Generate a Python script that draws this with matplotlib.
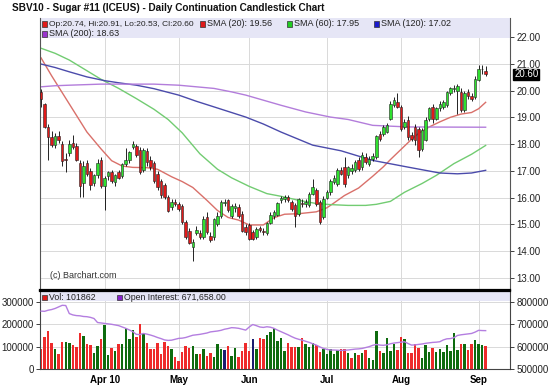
import numpy as np
import matplotlib
matplotlib.use("Agg")
import matplotlib.pyplot as plt
import matplotlib.ticker as mticker
from matplotlib.patches import Rectangle

plt.rcParams['font.family'] = ['Liberation Sans', 'DejaVu Sans']

# ── DATA: one entry per trading session, 8 Mar – 3 Sep 2010 ─────────────
opens = [19.95, 19.50, 18.64, 18.27, 17.96, 18.29, 17.99, 17.45, 17.68, 18.05,
         17.92, 17.29, 16.55, 17.30, 17.00, 16.55, 16.85, 17.40, 16.45, 16.80,
         16.95, 16.60, 16.95, 16.80, 17.25, 17.40, 17.89, 17.92, 17.77, 17.04,
         17.74, 17.42, 17.29, 16.89, 16.64, 16.46, 16.02, 15.65, 15.82, 15.77,
         15.67, 15.08, 14.77, 14.17, 14.67, 14.67, 14.52, 15.27, 14.58, 14.52,
         15.00, 15.33, 15.80, 15.90, 15.33, 15.60, 15.64, 15.40, 14.90, 14.96,
         14.71, 14.52, 14.85, 14.77, 14.67, 15.05, 15.30, 15.37, 15.90, 15.95,
         16.02, 15.83, 15.71, 15.40, 15.80, 15.75, 15.71, 16.15, 16.27, 15.83,
         15.27, 16.00, 16.20, 16.60, 16.52, 17.02, 17.14, 16.83, 17.00, 17.02,
         17.39, 17.14, 17.52, 17.27, 17.45, 17.52, 18.39, 18.39, 18.45, 18.95,
         19.45, 19.58, 19.39, 18.64, 18.89, 18.33, 18.64, 18.58, 17.83, 18.14,
         18.92, 19.39, 18.95, 19.33, 19.39, 19.45, 19.89, 20.05, 20.00, 19.95,
         19.27, 19.95, 19.79, 19.76, 20.41, 20.79, 20.74]
highs = [20.05, 19.55, 18.75, 18.50, 18.40, 18.50, 18.10, 17.65, 18.15, 18.35,
         18.05, 17.40, 17.35, 17.40, 17.10, 16.90, 17.45, 17.50, 16.80, 17.00,
         17.05, 16.90, 17.05, 17.30, 17.85, 17.75, 18.12, 18.00, 17.90, 17.85,
         17.85, 17.55, 17.35, 17.00, 16.70, 16.55, 16.10, 15.95, 15.95, 15.85,
         15.75, 15.15, 14.85, 14.45, 14.95, 14.80, 15.30, 15.45, 14.70, 15.25,
         15.45, 15.90, 15.95, 15.95, 15.75, 15.80, 15.75, 15.50, 15.00, 15.05,
         14.80, 14.90, 14.95, 14.85, 15.10, 15.45, 15.55, 15.85, 16.05, 16.10,
         16.10, 15.90, 15.80, 16.00, 15.95, 15.95, 16.20, 16.70, 16.35, 15.90,
         16.05, 16.30, 16.70, 16.85, 17.10, 17.15, 17.50, 17.20, 17.25, 17.40,
         17.50, 17.70, 17.65, 17.55, 17.65, 18.35, 18.50, 18.70, 18.80, 19.60,
         19.75, 19.90, 19.45, 18.95, 19.05, 18.45, 18.75, 18.65, 18.60, 19.00,
         19.40, 19.50, 19.40, 19.60, 19.65, 20.00, 20.15, 20.20, 20.25, 20.10,
         20.00, 20.05, 19.90, 20.55, 20.95, 20.95, 20.91]
lows = [19.40, 18.60, 17.42, 17.90, 17.85, 18.05, 17.20, 16.95, 17.55, 17.80,
        17.35, 16.02, 16.02, 16.80, 16.30, 16.45, 16.75, 16.35, 15.55, 16.65,
        16.55, 16.45, 16.70, 16.75, 17.20, 17.30, 17.80, 17.50, 16.90, 16.95,
        17.20, 17.05, 16.55, 16.30, 16.00, 15.95, 15.45, 15.55, 15.70, 15.50,
        15.00, 14.45, 14.25, 13.65, 14.60, 14.45, 14.45, 14.65, 14.35, 14.40,
        14.95, 15.25, 15.70, 15.45, 15.25, 15.45, 15.25, 14.70, 14.60, 14.40,
        14.40, 14.45, 14.70, 14.60, 14.60, 15.00, 15.20, 15.30, 15.80, 15.85,
        15.85, 15.50, 14.90, 15.30, 15.65, 15.65, 15.65, 16.10, 15.70, 15.00,
        15.20, 15.95, 16.10, 16.50, 16.45, 16.85, 16.40, 16.75, 16.90, 16.95,
        17.00, 17.05, 17.25, 17.20, 17.35, 17.45, 18.10, 18.30, 18.40, 18.90,
        19.40, 19.35, 18.50, 18.55, 18.15, 18.10, 17.95, 17.52, 17.75, 18.10,
        18.85, 18.80, 18.90, 19.25, 19.30, 19.40, 19.85, 19.95, 19.14, 19.20,
        19.20, 19.70, 19.60, 19.70, 20.35, 20.60, 20.53]
closes = [19.67, 18.64, 18.27, 17.96, 18.29, 18.14, 17.37, 17.40, 17.99, 17.90,
          17.42, 16.42, 17.20, 16.90, 16.48, 16.85, 17.30, 16.45, 16.75, 16.95,
          16.62, 16.85, 16.75, 17.25, 17.40, 17.70, 18.02, 17.58, 16.96, 17.79,
          17.33, 17.14, 16.64, 16.39, 16.08, 16.04, 15.50, 15.83, 15.78, 15.58,
          15.08, 14.52, 14.30, 14.33, 14.80, 14.52, 15.20, 14.71, 14.42, 15.20,
          15.33, 15.83, 15.83, 15.52, 15.67, 15.70, 15.33, 14.77, 14.70, 14.46,
          14.46, 14.83, 14.78, 14.71, 15.05, 15.37, 15.45, 15.80, 16.00, 16.02,
          15.90, 15.58, 15.33, 15.96, 15.75, 15.83, 16.15, 16.40, 15.77, 15.08,
          15.96, 16.20, 16.64, 16.75, 17.02, 16.90, 16.52, 17.14, 17.10, 17.33,
          17.08, 17.58, 17.33, 17.45, 17.55, 18.29, 18.20, 18.62, 18.70, 19.50,
          19.64, 19.39, 18.58, 18.83, 18.27, 18.20, 18.14, 17.77, 18.52, 18.89,
          19.33, 18.95, 19.33, 19.50, 19.58, 19.95, 20.08, 20.10, 20.16, 19.27,
          19.91, 19.79, 19.70, 20.45, 20.79, 20.82, 20.60]
volume = [89, 144, 172, 118, 88, 65, 120, 120, 115, 107,
          98, 162, 148, 110, 107, 72, 103, 135, 198, 63,
          92, 82, 112, 112, 185, 133, 175, 145, 200, 158,
          118, 88, 90, 118, 68, 122, 105, 88, 55, 38,
          78, 105, 95, 105, 65, 65, 88, 58, 73, 55,
          113, 90, 87, 103, 60, 95, 55, 80, 118, 80,
          135, 88, 140, 135, 152, 165, 182, 125, 140, 80,
          118, 98, 98, 98, 137, 110, 100, 115, 107, 77,
          89, 65, 89, 65, 83, 88, 89, 70, 50, 70,
          62, 70, 83, 50, 40, 171, 80, 73, 137, 80,
          110, 85, 144, 132, 73, 70, 110, 95, 50, 107,
          77, 92, 77, 88, 77, 107, 80, 160, 85, 110,
          110, 85, 110, 130, 112, 107, 101.862]            # thousands
open_int = [759, 758, 763, 766, 771, 778, 785, 784, 748, 742,
            739, 738, 735, 734, 731, 726, 708, 706, 704, 702,
            700, 697, 694, 688, 682, 675, 667, 655, 654, 659,
            656, 652, 647, 641, 636, 630, 628, 629, 633, 637,
            638, 641, 646, 651, 653, 655, 658, 661, 666, 668,
            670, 673, 678, 681, 685, 684, 682, 678, 674, 688,
            699, 694, 688, 686, 689, 687, 682, 674, 667, 660,
            653, 645, 638, 633, 629, 624, 619, 613, 607, 599,
            592, 588, 585, 585, 584, 583, 584, 585, 587, 589,
            590, 592, 596, 600, 606, 610, 607, 606, 608, 613,
            616, 618, 620, 622, 614, 607, 608, 610, 612, 615,
            617, 619, 620, 622, 630, 635, 636, 640, 650, 653,
            655, 657, 659, 665, 673, 672, 671.658]         # thousands

# moving averages at a few sessions
sma20_at = [0, 3, 8, 13, 17, 20, 23, 26, 30, 33, 37, 40, 43, 47, 50, 53, 56, 59, 63,
            66, 69, 73, 78, 81, 83, 86, 90, 94, 97, 99, 102, 105, 107, 110, 113, 116,
            119, 122, 124, 126]
sma20 = [21.22, 20.55, 19.50, 18.45, 17.82, 17.38, 17.18, 17.13, 17.12, 17.06, 16.78,
         16.60, 16.38, 15.90, 15.52, 15.26, 15.16, 14.98, 14.98, 15.25, 15.38, 15.40,
         15.47, 15.62, 15.80, 16.08, 16.36, 16.80, 17.15, 17.42, 17.80, 18.18, 18.40,
         18.64, 18.83, 19.00, 19.12, 19.18, 19.32, 19.56]
sma60_at = [0, 4, 8, 13, 17, 22, 27, 32, 36, 40, 45, 50, 54, 59, 64, 68, 73, 78, 82,
            87, 92, 95, 99, 103, 108, 112, 117, 122, 126]
sma60 = [21.58, 21.39, 21.14, 20.74, 20.42, 20.08, 19.70, 19.30, 18.92, 18.42, 17.64,
         17.06, 16.74, 16.42, 16.15, 16.05, 15.90, 15.78, 15.74, 15.71, 15.71, 15.75,
         15.86, 16.20, 16.53, 16.83, 17.27, 17.62, 17.95]
sma120_at = [0, 4, 8, 13, 18, 22, 27, 32, 39, 44, 49, 58, 63, 68, 77, 85, 94, 104,
             113, 118, 122, 126]
sma120 = [20.99, 20.86, 20.70, 20.51, 20.37, 20.29, 20.20, 20.07, 19.83, 19.60, 19.39,
          19.01, 18.75, 18.45, 17.96, 17.75, 17.39, 17.14, 16.92, 16.89, 16.92, 17.02]
sma200_at = [0, 4, 8, 17, 32, 39, 49, 54, 58, 68, 75, 82, 87, 94, 99, 104, 126]
sma200 = [20.14, 20.18, 20.20, 20.24, 20.24, 20.20, 20.08, 19.95, 19.83, 19.45, 19.20,
          19.01, 18.92, 18.70, 18.67, 18.64, 18.63]

month_start = [18, 39, 59, 81, 102, 124]
month_label = ["Apr 10", "May", "Jun", "Jul", "Aug", "Sep"]

# ── STYLE ───────────────────────────────────────────────────────────────
UP, DOWN = '#2fe02f', '#e01a1a'
VUP, VDOWN, VUNCH = '#0e6b0e', '#ee2b2b', '#1c1c70'
C20, C60, C120, C200 = '#d9706a', '#72cc72', '#4b4bab', '#b37ddb'
OI_COL = '#b47ee0'
BAND = '#e6e6f6'
GRID = '#d9d9d9'
W, H = 550, 389

fig = plt.figure(figsize=(W / 100, H / 100), dpi=100, facecolor='white')
ax = fig.add_axes([40 / W, 1 - 290 / H, 470 / W, 272 / H])
axv = fig.add_axes([40 / W, 1 - 369 / H, 470 / W, 78 / H], sharex=ax)

idx = np.arange(len(closes))

# candles
for i, (o, h, l, c) in enumerate(zip(opens, highs, lows, closes)):
    ax.vlines(i, l, h, color='black', lw=0.6, zorder=3)
    ax.add_patch(Rectangle((i - 0.36, min(o, c)), 0.72, max(abs(c - o), 0.02),
                           facecolor=UP if c >= o else DOWN, edgecolor='#222222',
                           lw=0.4, zorder=4))

ax.plot(sma20_at, sma20, color=C20, lw=1.0, zorder=2)
ax.plot(sma60_at, sma60, color=C60, lw=1.0, zorder=2)
ax.plot(sma120_at, sma120, color=C120, lw=1.0, zorder=2)
ax.plot(sma200_at, sma200, color=C200, lw=1.0, zorder=2)

ax.set_xlim(-0.3, 132.9)
ax.set_ylim(12.55, 22.71)
ax.set_axisbelow(True)
ax.grid(color=GRID, lw=0.7)
ax.set_xticks(month_start)
ax.tick_params(axis='x', length=0, labelbottom=False)
ax.yaxis.tick_right()
ax.set_yticks(np.arange(13, 23))
ax.yaxis.set_major_formatter(mticker.FormatStrFormatter('%.2f'))
ax.tick_params(axis='y', length=3, width=0.6, labelsize=7, pad=1.5, colors='#222222')
for s in ['left', 'right']:
    ax.spines[s].set_color('#555555')
ax.spines['top'].set_visible(False)
ax.spines['bottom'].set_linewidth(1.6)
ax.spines['bottom'].set_color('black')

ax.add_patch(Rectangle((0, 1 - 20 / 272), 1, 20 / 272, transform=ax.transAxes,
                       facecolor=BAND, edgecolor='none', zorder=1.5))
ax.text(10 / 470, 10 / 272, '(c) Barchart.com', transform=ax.transAxes,
        fontsize=6.5, color='#333333', va='bottom')
ax.annotate(f'{closes[-1]:.2f}', xy=(1, closes[-1]), xycoords=('axes fraction', 'data'),
            xytext=(3, 0), textcoords='offset points', fontsize=7, color='white',
            va='center', ha='left',
            bbox=dict(boxstyle='square,pad=0.1', fc='black', ec='black'))

# volume + open interest
prev = [opens[0]] + closes[:-1]
vcols = [VUP if c > p else VDOWN if c < p else VUNCH for c, p in zip(closes, prev)]
axv.bar(idx, np.array(volume) * 1000, width=0.7, color=vcols, edgecolor='none', zorder=2)
axv.set_ylim(0, 349000)
axv.set_yticks([0, 100000, 200000, 300000])
axv.yaxis.set_major_formatter(mticker.FuncFormatter(lambda v, _: f'{v:.0f}'))
axv.set_axisbelow(True)
axv.grid(color=GRID, lw=0.7)
axv.set_xticks(month_start)
axv.set_xticklabels(month_label, fontsize=7, fontweight='bold')
axv.tick_params(axis='x', length=0, pad=4)
axv.tick_params(axis='y', length=3, width=0.6, labelsize=7, pad=1.5, colors='#222222')
axv.spines['top'].set_linewidth(1.6)
axv.spines['top'].set_color('black')
for s in ['left', 'right', 'bottom']:
    axv.spines[s].set_color('#444444')

axo = axv.twinx()
axo.plot(idx, np.array(open_int) * 1000, color=OI_COL, lw=1.0, zorder=3)
axo.set_ylim(500000, 849000)
axo.set_yticks([500000, 600000, 700000, 800000])
axo.yaxis.set_major_formatter(mticker.FuncFormatter(lambda v, _: f'{v:.0f}'))
axo.tick_params(axis='y', length=3, width=0.6, labelsize=7, pad=1.5, colors='#222222')
for s in axo.spines.values():
    s.set_visible(False)
axv.add_patch(Rectangle((0, 1 - 10 / 78), 1, 10 / 78, transform=axv.transAxes,
                        facecolor=BAND, edgecolor='none', zorder=1.5))


def legend_item(x, y, color, text, size=6.5):
    fig.add_artist(Rectangle((x / W, 1 - (y + 2.5) / H), 5 / W, 5 / H,
                             transform=fig.transFigure, facecolor=color,
                             edgecolor='#333333', lw=0.5))
    fig.text((x + 7) / W, 1 - y / H, text, fontsize=size, va='center', color='#222222')


legend_item(42, 24, DOWN, f'Op:{opens[-1]:.2f}, Hi:{highs[-1]:.2f}, '
                          f'Lo:{lows[-1]:.2f}, Cl:{closes[-1]:.2f}', size=6.0)
legend_item(200, 24, DOWN, f'SMA (20): {sma20[-1]:.2f}')
legend_item(287, 24, '#22cc22', f'SMA (60): {sma60[-1]:.2f}')
legend_item(374, 24, '#1a1acc', f'SMA (120): {sma120[-1]:.2f}')
legend_item(42, 34, '#9933cc', f'SMA (200): {sma200[-1]:.2f}')
legend_item(42, 297, DOWN, f'Vol: {volume[-1] * 1000:.0f}', size=6.3)
legend_item(117, 297, '#8822cc', f'Open Interest: {open_int[-1] * 1000:,.2f}', size=6.3)

fig.text(12 / W, 1 - 8 / H, 'SBV10 - Sugar #11 (ICEUS) - Daily Continuation Candlestick Chart',
         fontsize=7.2, fontweight='bold', va='center', color='#111111')

fig.savefig('out.png', dpi=100, facecolor='white')
